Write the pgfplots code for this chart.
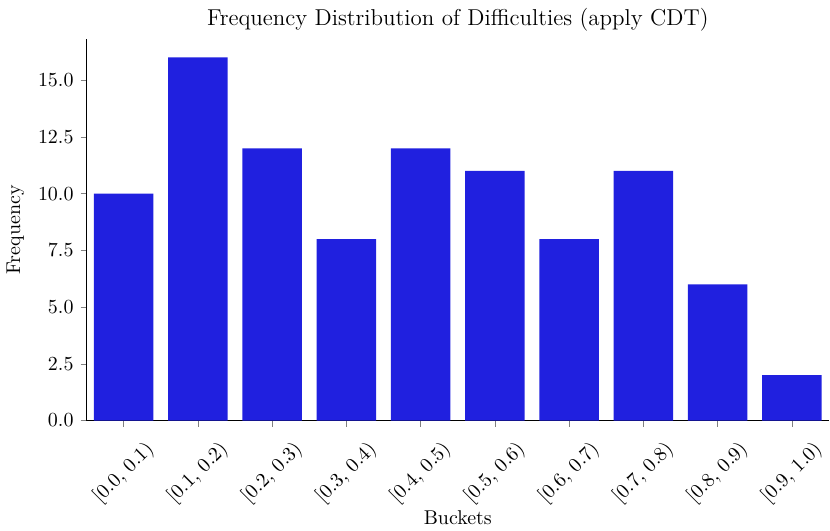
\documentclass[border=0pt]{standalone}
\usepackage{graphicx}
\usepackage{pgfplots}
\pgfplotsset{compat=1.18}
\definecolor{barblue}{HTML}{2020DF}
\newcommand{\rl}[1]{\rotatebox{45}{#1}}
\begin{document}
\begin{tikzpicture}
\begin{axis}[
  scale only axis,
  width=372pt, height=191pt,
  ybar, bar width=0.8,
  xmin=-0.5, xmax=9.5, ymin=0, ymax=16.8,
  axis x line*=bottom, axis y line*=left,
  tick align=outside, major tick length=3pt,
  xtick={0,...,9},
  xticklabels={\rl{[0.0, 0.1)},\rl{[0.1, 0.2)},\rl{[0.2, 0.3)},\rl{[0.3, 0.4)},\rl{[0.4, 0.5)},\rl{[0.5, 0.6)},\rl{[0.6, 0.7)},\rl{[0.7, 0.8)},\rl{[0.8, 0.9)},\rl{[0.9, 1.0)}},
  xticklabel style={anchor=north, inner sep=2pt, yshift=-4pt},
  ytick={0,2.5,5,7.5,10,12.5,15},
  yticklabel style={/pgf/number format/.cd, fixed, fixed zerofill, precision=1},
  title={Frequency Distribution of Difficulties (apply CDT)},
  title style={font=\fontsize{11.5}{14}\selectfont, yshift=-6pt, inner ysep=4pt},
  xlabel={Buckets}, ylabel={Frequency},
  xlabel style={yshift=4pt},
  axis line style={line width=0.6pt},
]
\addplot[fill=barblue, draw=none] coordinates {(0,10) (1,16) (2,12) (3,8) (4,12) (5,11) (6,8) (7,11) (8,6) (9,2)};
\end{axis}
\end{tikzpicture}
\end{document}
